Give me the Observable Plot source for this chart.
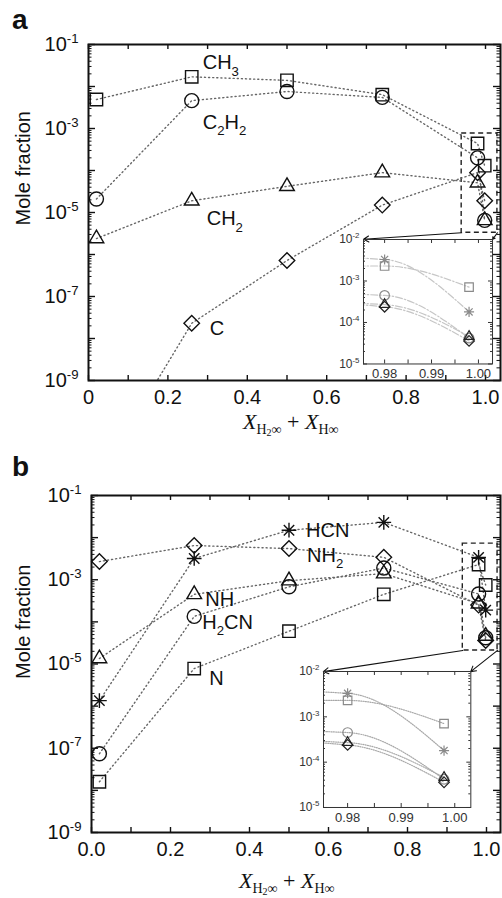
<!DOCTYPE html>
<html><head><meta charset="utf-8">
<script src="https://cdn.jsdelivr.net/npm/d3@7"></script>
<script src="https://cdn.jsdelivr.net/npm/@observablehq/plot@0.6"></script>
<style>
body{margin:0;background:#fff;}
#root{position:relative;width:502px;height:898px;overflow:hidden;font-family:"Liberation Sans",Arial,sans-serif;color:#111;}
#root svg{position:absolute;}
.xt{position:absolute;font-family:"Liberation Serif","DejaVu Serif",serif;font-size:22px;line-height:22px;white-space:nowrap;color:#111;}
.xt i{font-style:italic}
.xt .s{font-size:14px;position:relative;top:5px;font-style:normal}
.xt .ss{font-size:10px;position:relative;top:2px}
.pl{position:absolute;font:bold 28px/28px "Liberation Sans",Arial,sans-serif;color:#111;}
</style></head><body><div id="root"></div>
<script>
// ---------- data ----------
const xMain = [0.02, 0.26, 0.5, 0.74, 0.98, 0.998];

// panel a
const speciesA = ["CH3", "C2H2", "CH2", "C"];
const labelsA  = ["CH_3", "C_2H_2", "CH_2", "C"];
const valCH3  = [4.9e-3, 1.7e-2, 1.4e-2, 6.4e-3, 4.4e-4, 1.3e-4];
const valC2H2 = [2.1e-5, 4.6e-3, 7.6e-3, 5.5e-3, 2.0e-4, 6.5e-6];
const valCH2  = [2.4e-6, 1.9e-5, 4.2e-5, 8.9e-5, 5.1e-5, 6.5e-6];
const valC    = [4e-12, 2.3e-8, 7.2e-7, 1.5e-5, 8.9e-5, 1.9e-5];

// panel b
const speciesB = ["HCN", "NH2", "NH", "H2CN", "N"];
const labelsB  = ["HCN", "NH_2", "NH", "H_2CN", "N"];
const valHCN  = [1.35e-6, 3.2e-3, 1.5e-2, 2.3e-2, 3.4e-3, 1.9e-4];
const valNH2  = [2.7e-3, 6.5e-3, 5.5e-3, 3.4e-3, 2.5e-4, 3.6e-5];
const valNH   = [1.35e-5, 4.5e-4, 9.5e-4, 1.4e-3, 2.7e-4, 4.6e-5];
const valH2CN = [7.4e-8, 1.35e-4, 6.8e-4, 1.9e-3, 4.6e-4, 4.2e-5];
const valN    = [1.6e-8, 7.8e-6, 6.0e-5, 4.5e-4, 2.3e-3, 7.5e-4];

// inset (region x -> 1)
const xInset  = [0.74, 0.98, 0.998];
const insetSpecies = ["HCN", "N", "H2CN", "NH", "NH2"];
const insHCN  = [2.3e-2, 3.3e-3, 1.8e-4];
const insN    = [4.5e-4, 2.3e-3, 7.1e-4];
const insH2CN = [1.9e-3, 4.5e-4, 4.2e-5];
const insNH   = [1.4e-3, 2.7e-4, 4.6e-5];
const insNH2  = [3.4e-3, 2.4e-4, 3.6e-5];

// ticks
const xTicks = [0, 0.2, 0.4, 0.6, 0.8, 1.0];
const xTickLabelsA = ["0", "0.2", "0.4", "0.6", "0.8", "1.0"];
const xTickLabelsB = ["0.0", "0.2", "0.4", "0.6", "0.8", "1.0"];
const yTickExp = [-1, -3, -5, -7, -9];
const insetXTicks = [0.98, 0.99, 1.00];
const insetXLabels = ["0.98", "0.99", "1.00"];
const insetYExp = [-2, -3, -4, -5];

// zoom box and inset frame, in main-panel data units [x1, x2, yLow, yHigh]
const boxA   = [0.94, 1.03, 3.3e-6, 7.6e-4];
const insetA = [0.693, 1.018, 2.5e-9, 2.3e-6];
const boxB   = [0.94, 1.028, 2.1e-5, 7.2e-3];
const insetB = [0.587, 0.96, 3.9e-9, 6.6e-6];

// ---------- helpers ----------
const star8 = {draw(ctx, size) {
  const r = Math.sqrt(size / Math.PI) * 1.05, d = r * Math.SQRT1_2;
  ctx.moveTo(0, -r); ctx.lineTo(0, r);
  ctx.moveTo(-r, 0); ctx.lineTo(r, 0);
  ctx.moveTo(-d, -d); ctx.lineTo(d, d);
  ctx.moveTo(-d, d); ctx.lineTo(d, -d);
}};
const FONT = "Liberation Sans, Arial, sans-serif";
const NS = "http://www.w3.org/2000/svg";

function richEl(el) {
  const s = el.textContent;
  if (!/[_^]/.test(s)) return;
  const base = parseFloat(getComputedStyle(el).fontSize) || 20;
  el.textContent = "";
  let shift = 0, m;
  const re = /([_^])\{([^}]*)\}|([_^])([^_^])|([^_^]+)/g;
  while ((m = re.exec(s))) {
    const ts = document.createElementNS(NS, "tspan");
    let target = 0, txt, small = false;
    if (m[1]) { txt = m[2]; small = true; target = m[1] === "_" ? base * 0.32 : -base * 0.42; }
    else if (m[3]) { txt = m[4]; small = true; target = m[3] === "_" ? base * 0.32 : -base * 0.42; }
    else txt = m[5];
    ts.textContent = txt;
    if (small) ts.setAttribute("font-size", (base * 0.66).toFixed(1));
    const dy = target - shift;
    if (dy) ts.setAttribute("dy", dy.toFixed(2));
    shift = target;
    el.appendChild(ts);
  }
}
function rich(svg) {
  svg.querySelectorAll("text").forEach(t => {
    const sp = t.querySelectorAll("tspan");
    if (sp.length) sp.forEach(richEl); else richEl(t);
  });
}

function mainPanel(cfg) {
  const {names, series, symbols, labels, offsets, xLabels, mL, mT, mB, H, box, inset} = cfg;
  const W = 502, mR = 2;
  const pw = W - mL - mR, ph = H - mT - mB;
  const xMax = cfg.xMax;
  const rows = names.flatMap((n, i) => xMain.map((x, j) => ({name: n, x, y: series[i][j]})));
  const yDec = [], yMinor = [];
  for (let e = -9; e <= -1; e++) { yDec.push(10 ** e); if (e < -1) for (let k = 2; k <= 9; k++) yMinor.push(k * 10 ** e); }
  const xMinor = d3.range(0, 11).map(i => i / 10);
  const tk = {stroke: "#111", strokeWidth: 1.4};
  const plot = Plot.plot({
    width: W, height: H, marginLeft: mL, marginRight: mR, marginTop: mT, marginBottom: mB,
    x: {domain: [0, xMax]},
    y: {type: "log", domain: [1e-9, 1e-1]},
    style: {fontFamily: FONT, fontSize: "20px", color: "#111", background: "transparent", overflow: "visible"},
    marks: [
      Plot.rect([box], {x1: d => d[0], x2: d => d[1], y1: d => d[2], y2: d => d[3], fill: "none", stroke: "#222", strokeWidth: 1.4, strokeDasharray: "5,3.5"}),
      Plot.line(rows, {x: "x", y: "y", z: "name", stroke: "#666", strokeWidth: 1.4, strokeDasharray: "1.1,3", clip: true}),
      ...names.map((n, i) => Plot.dot(rows.filter(d => d.name === n && d.y >= 1e-9),
        {x: "x", y: "y", symbol: symbols[i], r: 7, fill: "none", stroke: "#111", strokeWidth: 1.4})),
      ...labels.map((lab, i) => {
        const o = offsets[i];
        return Plot.text(rows.filter(d => d.name === names[i] && d.x === o.at),
          {x: "x", y: "y", text: () => lab, dx: o.dx, dy: o.dy, textAnchor: "start", fontSize: 20, fill: "#111"});
      }),
      Plot.arrow([[box[0], box[2], inset[0], inset[3]], [box[1], box[2], inset[1], inset[3]]],
        {x1: d => d[0], y1: d => d[1], x2: d => d[2], y2: d => d[3], stroke: "#111", strokeWidth: 1.1, headLength: 8}),
      Plot.tickX(xMinor, {x: d => d, insetTop: ph - 5, ...tk}),
      Plot.tickX(xMinor, {x: d => d, insetBottom: ph - 5, ...tk}),
      Plot.tickY(yDec, {y: d => d, insetRight: pw - 7, ...tk}),
      Plot.tickY(yMinor, {y: d => d, insetRight: pw - 3.5, stroke: "#111", strokeWidth: 1}),
      Plot.tickY(yDec, {y: d => d, insetLeft: pw - 7, ...tk}),
      Plot.tickY(yMinor, {y: d => d, insetLeft: pw - 3.5, stroke: "#111", strokeWidth: 1}),
      Plot.frame({stroke: "#111", strokeWidth: 2}),
      Plot.axisX(xTicks, {anchor: "bottom", tickSize: 0, tickPadding: 9, fontSize: 20, label: null,
        tickFormat: d => xLabels[xTicks.indexOf(d)]}),
      Plot.axisY(yTickExp.map(e => 10 ** e), {anchor: "left", tickSize: 0, tickPadding: 10, fontSize: 20, label: null,
        tickFormat: d => `10^{${Math.round(Math.log10(d))}}`}),
      Plot.text(["Mole fraction"], {frameAnchor: "left", rotate: -90, dx: 23 - mL, dy: cfg.ylabDy, fontSize: 20, fill: "#111"})
    ]
  });
  return plot;
}

function insetPanel(fw, fh, dash, lineColor) {
  const mL = 32, mR = 4, mT = 8, mB = 22;
  const vals = [insHCN, insN, insH2CN, insNH, insNH2];
  const syms = [star8, "square", "circle", "triangle2", "diamond2"];
  const cols = ["#8a8a8a", "#8a8a8a", "#8a8a8a", "#222", "#222"];
  const rows = insetSpecies.flatMap((n, i) => xInset.map((x, j) => ({name: n, x, y: vals[i][j]})));
  const yDec = [1e-5, 1e-4, 1e-3, 1e-2], yMinor = [];
  for (let e = -5; e < -2; e++) for (let k = 2; k <= 9; k++) yMinor.push(k * 10 ** e);
  const xt = [0.98, 0.985, 0.99, 0.995, 1.0];
  const tk = {stroke: "#333", strokeWidth: 1};
  return Plot.plot({
    width: fw + mL + mR, height: fh + mT + mB, marginLeft: mL, marginRight: mR, marginTop: mT, marginBottom: mB,
    x: {domain: [0.9755, 1.003]},
    y: {type: "log", domain: [1e-5, 1e-2]},
    style: {fontFamily: FONT, fontSize: "13px", color: "#333", background: "transparent", overflow: "visible"},
    marks: [
      Plot.line(rows, {x: "x", y: "y", z: "name", curve: "monotone-x", stroke: lineColor, strokeWidth: 1.2, strokeDasharray: dash, clip: true}),
      ...insetSpecies.map((n, i) => Plot.dot(rows.filter(d => d.name === n && d.x > 0.97),
        {x: "x", y: "y", symbol: syms[i], r: 4.8, fill: "none", stroke: cols[i], strokeWidth: 1.2})),
      Plot.tickX(xt, {x: d => d, insetTop: fh - 4, ...tk}),
      Plot.tickX(xt, {x: d => d, insetBottom: fh - 4, ...tk}),
      Plot.tickY(yDec, {y: d => d, insetRight: fw - 4, ...tk}),
      Plot.tickY(yMinor, {y: d => d, insetRight: fw - 2, ...tk}),
      Plot.tickY(yDec, {y: d => d, insetLeft: fw - 4, ...tk}),
      Plot.tickY(yMinor, {y: d => d, insetLeft: fw - 2, ...tk}),
      Plot.frame({stroke: "#333", strokeWidth: 1}),
      Plot.axisX(insetXTicks, {anchor: "bottom", tickSize: 0, tickPadding: 5, fontSize: 13, label: null,
        tickFormat: d => insetXLabels[insetXTicks.indexOf(d)]}),
      Plot.axisY(insetYExp.map(e => 10 ** e), {anchor: "left", tickSize: 0, tickPadding: 4, fontSize: 12, label: null,
        tickFormat: d => `10^{${Math.round(Math.log10(d))}}`})
    ]
  });
}

// ---------- build ----------
const root = document.getElementById("root");

function place(plot, box, inset, top, dash, lineColor) {
  plot.style.left = "0px"; plot.style.top = top + "px";
  root.appendChild(plot);
  rich(plot);
  const sx = plot.scale("x"), sy = plot.scale("y");
  const l = sx.apply(inset[0]), r = sx.apply(inset[1]);
  const t = sy.apply(inset[3]), b = sy.apply(inset[2]);
  const ins = insetPanel(r - l, b - t, dash, lineColor);
  ins.style.left = (l - 32) + "px"; ins.style.top = (top + t - 8) + "px";
  root.appendChild(ins);
  rich(ins);
}

const pa = mainPanel({
  names: speciesA, series: [valCH3, valC2H2, valCH2, valC],
  symbols: ["square", "circle", "triangle2", "diamond2"],
  labels: labelsA,
  offsets: [{at: 0.26, dx: 11, dy: -14}, {at: 0.26, dx: 11, dy: 22}, {at: 0.26, dx: 15, dy: 18}, {at: 0.26, dx: 18, dy: 5}],
  xLabels: xTickLabelsA, mL: 88, mT: 44, mB: 60, H: 440, xMax: (500 - 88) / 397,
  box: boxA, inset: insetA, ylabDy: 13
});
place(pa, boxA, insetA, 0, "7,2,1.5,2", "#c6c6c6");

const pb = mainPanel({
  names: speciesB, series: [valHCN, valNH2, valNH, valH2CN, valN],
  symbols: [star8, "diamond2", "triangle2", "circle", "square"],
  labels: labelsB,
  offsets: [{at: 0.5, dx: 17, dy: 0}, {at: 0.5, dx: 18, dy: 7}, {at: 0.26, dx: 11, dy: 5}, {at: 0.26, dx: 8, dy: 6}, {at: 0.26, dx: 15, dy: 10}],
  xLabels: xTickLabelsB, mL: 91, mT: 55, mB: 66, H: 458, xMax: (500 - 91) / 395,
  box: boxB, inset: insetB, ylabDy: 15
});
place(pb, boxB, insetB, 440, "1,1.3", "#a8a8a8");

function addHTML(cls, left, top, html) {
  const d = document.createElement("div");
  d.className = cls; d.style.left = left + "px"; d.style.top = top + "px"; d.innerHTML = html;
  root.appendChild(d);
}
addHTML("pl", 12, 6, "a");
addHTML("pl", 12, 453, "b");
const xTitle = '<i>X</i><span class="s">H<span class="ss">2</span>∞</span> + <i>X</i><span class="s">H∞</span>';
addHTML("xt", 243, 411, xTitle);
addHTML("xt", 239, 870, xTitle);
</script>
</body></html>
